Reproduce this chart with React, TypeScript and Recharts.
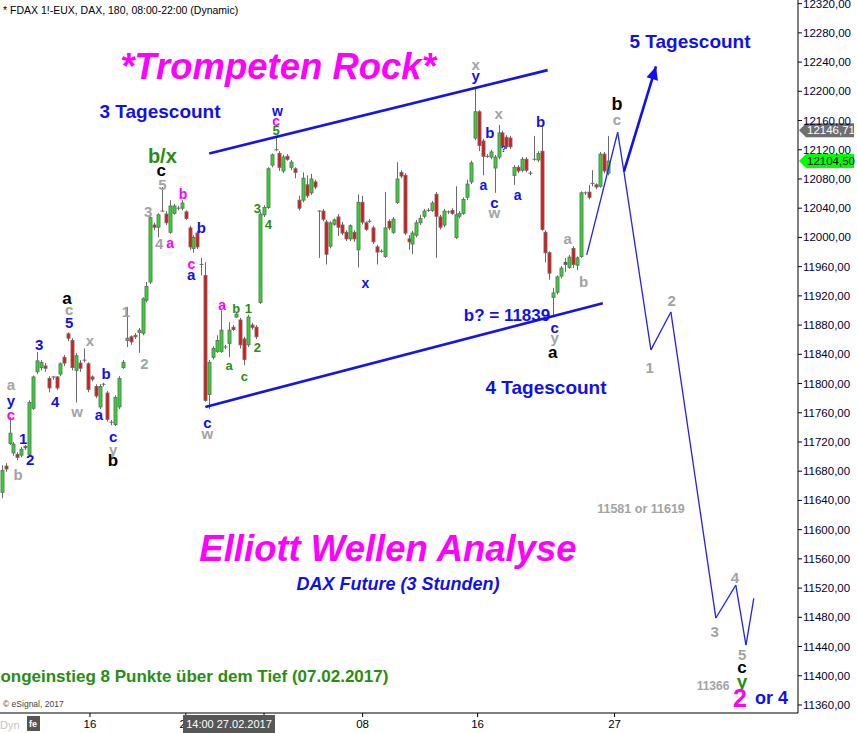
import React from 'react'
import { ComposedChart, Bar, XAxis, YAxis, ReferenceLine, ReferenceDot } from 'recharts'

// FDAX 3h candles, oldest first
const opens = [
  11651, 11687, 11718, 11705, 11703, 11702, 11714, 11703, 11766, 11816, 11822, 11824, 11807, 11809, 11809, 11813,
  11836, 11868, 11859, 11818, 11828, 11832, 11827, 11809, 11796, 11768, 11799, 11787, 11747, 11744, 11768, 11822,
  11859, 11864, 11866, 11870, 11869, 11914, 11939, 12017, 12014, 12036, 12032, 12007, 12033, 12040, 12040, 12035,
  12013, 11985, 12006, 11963, 11948, 11785, 11836, 11844, 11844, 11850, 11855, 11877, 11891, 11887, 11861, 11853,
  11880, 11877, 11911, 12031, 12041, 12099, 12120, 12115, 12091, 12111, 12096, 12094, 12051, 12051, 12072, 12061,
  12076, 12036, 12036, 12021, 11988, 12018, 12028, 12017, 12007, 11998, 12007, 11983, 12048, 12020, 12022, 12013,
  11987, 11981, 11974, 12022, 12007, 12048, 12089, 12085, 11998, 11991, 12003, 12020, 12029, 12037, 12037, 12059,
  12028, 12017, 12035, 12037, 12000, 12029, 12033, 12055, 12076, 12136, 12172, 12132, 12111, 12110, 12095, 12110,
  12143, 12137, 12136, 12085, 12096, 12092, 12107, 12088, 12107, 12106, 12118, 12007, 11979, 11918, 11925, 11947,
  11966, 11959, 11985, 11962, 11974, 12061, 12062, 12074, 12072, 12070, 12114, 12088,
]
const highs = [
  11688, 11691, 11754, 11720, 11706, 11713, 11716, 11777, 11811, 11843, 11832, 11828, 11810, 11810, 11810, 11829,
  11839, 11870, 11862, 11842, 11832, 11848, 11829, 11811, 11799, 11799, 11801, 11790, 11750, 11784, 11810, 11832,
  11905, 11866, 11869, 11876, 11918, 11939, 12029, 12020, 12033, 12069, 12036, 12051, 12046, 12043, 12051, 12037,
  12016, 12003, 12009, 11972, 11966, 11832, 11851, 11866, 11900, 11853, 11884, 11880, 11898, 11890, 11864, 11894,
  11883, 11880, 12035, 12044, 12096, 12115, 12137, 12118, 12113, 12114, 12106, 12096, 12057, 12089, 12085, 12087,
  12079, 12037, 12039, 12024, 12022, 12026, 12032, 12021, 12010, 12018, 12010, 12059, 12057, 12022, 12025, 12016,
  11990, 11984, 12062, 12025, 12028, 12103, 12092, 12088, 12003, 12009, 12024, 12031, 12039, 12040, 12050, 12062,
  12031, 12039, 12037, 12040, 12070, 12036, 12055, 12079, 12105, 12206, 12174, 12135, 12114, 12120, 12113, 12154,
  12146, 12140, 12139, 12099, 12099, 12110, 12110, 12091, 12139, 12118, 12151, 12010, 11981, 11931, 11948, 11961,
  11972, 11976, 11988, 11974, 12063, 12063, 12072, 12092, 12074, 12117, 12117, 12139,
]
const lows = [
  11643, 11679, 11716, 11701, 11695, 11699, 11709, 11701, 11764, 11813, 11818, 11816, 11788, 11805, 11791, 11810,
  11824, 11858, 11818, 11774, 11816, 11829, 11788, 11803, 11780, 11765, 11796, 11748, 11743, 11742, 11765, 11820,
  11850, 11853, 11861, 11842, 11866, 11911, 11936, 12010, 12000, 12035, 12017, 12005, 12031, 12037, 12037, 12024,
  11983, 11979, 11984, 11948, 11775, 11765, 11833, 11842, 11842, 11847, 11836, 11872, 11890, 11848, 11825, 11850,
  11874, 11861, 11909, 12028, 12039, 12096, 12118, 12091, 12088, 12105, 12092, 12081, 12037, 12048, 12054, 12058,
  12066, 11972, 12022, 11963, 11985, 12016, 12002, 12003, 11995, 11995, 11994, 11959, 12018, 12009, 12020, 11991,
  11963, 11979, 11972, 12010, 12005, 12046, 12081, 12003, 11983, 11977, 12000, 12017, 12026, 12035, 12035, 11972,
  12011, 12014, 12032, 12031, 11998, 12026, 12031, 12051, 12073, 12133, 12118, 12085, 12109, 12107, 12061, 12107,
  12122, 12121, 12121, 12072, 12088, 12089, 12089, 12085, 12105, 12103, 12009, 11966, 11942, 11891, 11922, 11944,
  11953, 11957, 11958, 11955, 11972, 12058, 12052, 12070, 12066, 12068, 12088, 12085,
]
const closes = [
  11681, 11683, 11732, 11717, 11699, 11710, 11712, 11774, 11809, 11831, 11829, 11821, 11794, 11809, 11794, 11827,
  11828, 11862, 11822, 11838, 11821, 11832, 11792, 11806, 11783, 11796, 11799, 11751, 11746, 11781, 11807, 11829,
  11862, 11857, 11864, 11873, 11916, 11933, 12027, 12014, 12031, 12036, 12020, 12043, 12043, 12040, 12047, 12026,
  11987, 12000, 11987, 11963, 11777, 11829, 11848, 11859, 11873, 11850, 11873, 11874, 11895, 11853, 11833, 11891,
  11877, 11864, 12032, 12041, 12094, 12113, 12120, 12096, 12110, 12107, 12103, 12089, 12040, 12081, 12057, 12080,
  12069, 12036, 12025, 11977, 12020, 12024, 12014, 12006, 11998, 12016, 11998, 12048, 12021, 12011, 12022, 11994,
  11980, 11981, 12013, 12013, 12025, 12080, 12084, 12006, 11994, 12006, 12020, 12026, 12036, 12037, 12047, 12029,
  12014, 12036, 12035, 12033, 12031, 12033, 12052, 12073, 12102, 12172, 12126, 12111, 12111, 12117, 12110, 12143,
  12125, 12124, 12124, 12096, 12091, 12107, 12092, 12088, 12107, 12115, 12011, 11979, 11951, 11924, 11946, 11958,
  11963, 11973, 11963, 11972, 12061, 12061, 12055, 12073, 12069, 12114, 12091, 12104.5,
]

// x axis: bar slots (bar index), future slots kept empty for the projection
const SLOT_MIN = -0.5
const SLOT_MAX = 203.5
const dayTicks = [22.5, 47, 67, 92.2, 121.6, 156.6]
const dayLabels = ['16', '23', '01', '08', '16', '27']
const priceTicks = Array.from({ length: 25 }, (_, k) => 11360 + 40 * k)

// trend channel
const upperChannel = [{ x: 53, y: 12115 }, { x: 139.5, y: 12229 }]
const lowerChannel = [{ x: 52, y: 11768 }, { x: 153.6, y: 11910 }]

// expected path (wave count)
const projection = [
  { x: 149.5, y: 11976 }, { x: 157.4, y: 12144 }, { x: 159, y: 12090 }, { x: 165.9, y: 11846 },
  { x: 171, y: 11898 }, { x: 182.5, y: 11479 }, { x: 187.6, y: 11524 }, { x: 190.2, y: 11442 },
  { x: 192.2, y: 11506 },
]
const altArrow = [{ x: 159, y: 12090 }, { x: 167.2, y: 12234 }]

const lastHigh = 12146.71
const lastClose = 12104.5

const COLORS: Record<string, string> = {
  g: '#a3a3a3', // grey
  b: '#1010ee', // blue
  m: '#ff00ff', // magenta
  k: '#000000',
  v: '#2a8c14', // green
}

// wave labels: slot, price, text, colour, size
const waveLabels: [number, number, string, string, number][] = [
  [2.3, 11798, 'a', 'g', 15], [2.3, 11777, 'y', 'b', 15], [2.3, 11758, 'c', 'm', 15],
  [5.4, 11725, '1', 'b', 15], [7.2, 11696, '2', 'b', 15], [4.1, 11676, 'b', 'g', 15],
  [9.5, 11854, '3', 'b', 15], [13.6, 11776, '4', 'b', 15],
  [16.6, 11917, 'a', 'k', 17], [17.2, 11902, 'c', 'g', 15], [17.2, 11884, '5', 'b', 15],
  [22.5, 11859, 'x', 'g', 15], [19.2, 11762, 'w', 'g', 15],
  [26.6, 11814, 'b', 'b', 15], [24.8, 11757, 'a', 'b', 15], [28.4, 11727, 'c', 'b', 15],
  [28.4, 11710, 'y', 'g', 15], [28.4, 11694, 'b', 'k', 17],
  [31.7, 11898, '1', 'g', 15], [36.4, 11828, '2', 'g', 15],
  [37.4, 12035, '3', 'g', 15], [40.2, 11992, '4', 'g', 15], [43.0, 11992, 'a', 'm', 14],
  [41.0, 12073, '5', 'g', 15], [40.7, 12091, 'c', 'k', 17], [41.0, 12111, 'b/x', 'v', 20],
  [46.3, 12059, 'b', 'm', 14], [51.0, 12014, 'b', 'b', 15], [48.4, 11963, 'c', 'm', 14], [48.4, 11949, 'a', 'b', 15],
  [52.5, 11747, 'c', 'b', 15], [52.5, 11731, 'w', 'g', 15],
  [56.3, 11907, 'a', 'm', 14], [59.9, 11903, 'b', 'v', 13], [63.0, 11903, '1', 'v', 13],
  [58.1, 11824, 'a', 'v', 13], [62.0, 11810, 'c', 'v', 13], [65.3, 11850, '2', 'v', 13],
  [65.3, 12040, '3', 'v', 13], [68.1, 12018, '4', 'v', 13],
  [70.4, 12173, 'w', 'b', 14], [70.1, 12159, 'c', 'm', 14], [70.1, 12146, '5', 'v', 13],
  [92.9, 11937, 'x', 'b', 14],
  [121.1, 12237, 'x', 'g', 15], [121.1, 12222, 'y', 'b', 15],
  [127.0, 12169, 'x', 'g', 15], [124.7, 12143, 'b', 'b', 15], [128.2, 12121, '?', 'b', 9],
  [123.1, 12072, 'a', 'b', 14], [125.9, 12048, 'c', 'b', 15], [125.9, 12034, 'w', 'g', 15],
  [131.8, 12058, 'a', 'b', 14], [137.7, 12159, 'b', 'b', 15],
  [144.6, 11999, 'a', 'g', 15], [148.7, 11940, 'b', 'g', 15],
  [141.3, 11877, 'c', 'b', 15], [141.3, 11863, 'y', 'g', 15], [140.8, 11843, 'a', 'k', 17],
  [157.2, 12182, 'b', 'k', 18], [157.2, 12161, 'c', 'g', 15],
  [165.6, 11822, '1', 'g', 15], [171.2, 11913, '2', 'g', 15], [182.2, 11460, '3', 'g', 15],
  [187.4, 11535, '4', 'g', 15], [189.2, 11429, '5', 'g', 15], [189.2, 11411, 'c', 'k', 17],
  [189.2, 11392, 'y', 'v', 19],
]

const FONT = '"Liberation Sans", Arial, sans-serif'

const Candle = (props: any) => {
  const { x, y, width, height, payload } = props
  if (!payload || payload.open == null) return null
  const { open, close, high, low } = payload
  const top = Math.min(y, y + height)
  const span = Math.abs(height)
  const ppu = high > low ? span / (high - low) : 0
  const yOf = (v: number) => top + (high - v) * ppu
  const cx = Math.round(x + width / 2) + 0.5
  const yo = yOf(open)
  const yc = yOf(close)
  const up = close >= open
  return (
    <g>
      <line x1={cx} x2={cx} y1={top} y2={top + span} stroke="#6a6a6a" strokeWidth={1} />
      {Math.abs(yo - yc) < 1 ? (
        <line x1={cx - 2} x2={cx + 2} y1={yo} y2={yo} stroke="#6a6a6a" strokeWidth={1} />
      ) : (
        <rect
          x={cx - 1.5}
          y={Math.min(yo, yc)}
          width={3}
          height={Math.abs(yo - yc)}
          fill={up ? '#1fe31f' : '#ee1010'}
          stroke="#6a6a6a"
          strokeWidth={0.9}
        />
      )}
    </g>
  )
}

const PriceTick = ({ x, y, payload }: any) => (
  <text x={x} y={y} dy={4} fontSize={11.5} fill="#000033" fontFamily={FONT}>
    {fmtPrice(payload.value)}
  </text>
)

const DayTick = ({ x, y, payload }: any) => (
  <text x={x} y={y} dy={10} fontSize={11.5} fill="#000" fontFamily={FONT} textAnchor="middle">
    {dayLabels[dayTicks.indexOf(payload.value)] ?? ''}
  </text>
)

const PriceTag = ({ cx, cy, fill, color, text }: any) => (
  <g>
    <polygon
      points={`${cx + 1},${cy} ${cx + 8},${cy - 7} ${cx + 56},${cy - 7} ${cx + 56},${cy + 7} ${cx + 8},${cy + 7}`}
      fill={fill}
    />
    <text x={cx + 9} y={cy + 4} fontSize={11.5} fill={color} fontFamily={FONT}>{text}</text>
  </g>
)

const ArrowHead = ({ cx, cy }: any) => {
  // direction of the arrow shaft on screen
  const a = Math.atan2(-112, 34)
  const len = 13
  const half = 6
  const bx = cx - len * Math.cos(a)
  const by = cy - len * Math.sin(a)
  const px = -Math.sin(a) * half
  const py = Math.cos(a) * half
  return <polygon points={`${cx},${cy} ${bx + px},${by + py} ${bx - px},${by - py}`} fill="#1010ee" />
}

const segments = (pts: { x: number; y: number }[]) =>
  pts.slice(1).map((p, k) => [pts[k], p] as [{ x: number; y: number }, { x: number; y: number }])

function fmtPrice(v: number) {
  return v.toFixed(2).replace('.', ',')
}

export default function App() {
  const bars = opens.map((o, i) => ({ i, open: o, high: highs[i], low: lows[i], close: closes[i] }))

  return (
    <div style={{ position: 'absolute', left: 0, top: 0, width: 857, height: 733, background: '#fff', overflow: 'hidden' }}>
      <ComposedChart width={857} height={733} data={bars} margin={{ top: 0, right: 0, bottom: 0, left: 0 }}>
        <XAxis
          type="number"
          dataKey="i"
          domain={[SLOT_MIN, SLOT_MAX]}
          ticks={dayTicks}
          interval={0}
          allowDataOverflow
          height={20}
          tickSize={4}
          tickMargin={1}
          axisLine={{ stroke: '#000' }}
          tickLine={{ stroke: '#000' }}
          tick={<DayTick />}
        />
        <YAxis
          orientation="right"
          domain={[11349, 12325]}
          ticks={priceTicks}
          interval={0}
          allowDataOverflow
          width={59}
          tickSize={4}
          tickMargin={1}
          axisLine={{ stroke: '#000' }}
          tickLine={{ stroke: '#000033' }}
          tick={<PriceTick />}
        />
        <Bar
          dataKey={(d: any) => [d.low, d.high]}
          shape={<Candle />}
          barSize={4}
          isAnimationActive={false}
        />
        <ReferenceLine segment={upperChannel} stroke="#1515e6" strokeWidth={2.6} />
        <ReferenceLine segment={lowerChannel} stroke="#1515e6" strokeWidth={2.6} />
        {segments(projection).map((s, k) => (
          <ReferenceLine key={`p${k}`} segment={s} stroke="#2222ee" strokeWidth={1.3} />
        ))}
        <ReferenceLine segment={altArrow} stroke="#1010ee" strokeWidth={2.6} />
        <ReferenceDot x={altArrow[1].x} y={altArrow[1].y} r={0} shape={(p: any) => <ArrowHead cx={p.cx} cy={p.cy} />} />
        {waveLabels.map(([i, p, t, c, s], k) => (
          <ReferenceDot
            key={`w${k}`}
            x={i}
            y={p}
            r={0}
            shape={(pr: any) => (
              <text
                x={pr.cx}
                y={pr.cy}
                textAnchor="middle"
                dominantBaseline="central"
                fontSize={s}
                fontWeight="bold"
                fontFamily={FONT}
                fill={COLORS[c]}
              >
                {t}
              </text>
            )}
          />
        ))}
        <ReferenceDot
          x={SLOT_MAX}
          y={lastHigh}
          r={0}
          shape={(p: any) => <PriceTag cx={p.cx} cy={p.cy} fill="#6e6e6e" color="#fff" text={fmtPrice(lastHigh)} />}
        />
        <ReferenceDot
          x={SLOT_MAX}
          y={lastClose}
          r={0}
          shape={(p: any) => <PriceTag cx={p.cx} cy={p.cy} fill="#00ff00" color="#000" text={fmtPrice(lastClose)} />}
        />
      </ComposedChart>

      <svg width={857} height={733} style={{ position: 'absolute', left: 0, top: 0, pointerEvents: 'none' }} fontFamily={FONT}>
        <text x={3} y={14} fontSize={10.5} fill="#000">* FDAX 1!-EUX, DAX, 180, 08:00-22:00 (Dynamic)</text>
        <text x={278} y={79} fontSize={36.5} fontWeight="bold" fontStyle="italic" fill="#ff00ff" textAnchor="middle">*Trompeten Rock*</text>
        <text x={160} y={118} fontSize={19} fontWeight="bold" fill="#1010ee" textAnchor="middle">3 Tagescount</text>
        <text x={690} y={48} fontSize={19} fontWeight="bold" fill="#1010ee" textAnchor="middle">5 Tagescount</text>
        <text x={546} y={394} fontSize={19} fontWeight="bold" fill="#1010ee" textAnchor="middle">4 Tagescount</text>
        <text x={507} y={321} fontSize={17} fontWeight="bold" fill="#1010ee" textAnchor="middle">b? = 11839</text>
        <text x={641} y={513} fontSize={12.5} fontWeight="bold" fill="#a3a3a3" textAnchor="middle">11581 or 11619</text>
        <text x={713} y={690} fontSize={12} fontWeight="bold" fill="#a3a3a3" textAnchor="middle">11366</text>
        <text x={388} y={561} fontSize={36.5} fontWeight="bold" fontStyle="italic" fill="#ff00ff" textAnchor="middle">Elliott Wellen Analyse</text>
        <text x={398} y={590} fontSize={18} fontWeight="bold" fontStyle="italic" fill="#1010ee" textAnchor="middle">DAX Future (3 Stunden)</text>
        <text x={-10} y={682} fontSize={17} fontWeight="bold" fill="#2a8c14">Longeinstieg 8 Punkte über dem Tief (07.02.2017)</text>
        <text x={740} y={707} fontSize={25} fontWeight="bold" fill="#ff00ff" textAnchor="middle">2</text>
        <text x={755} y={704} fontSize={18} fontWeight="bold" fill="#1010ee">or 4</text>
        <text x={3} y={707} fontSize={8.5} fill="#444">© eSignal, 2017</text>
        <text x={0} y={729} fontSize={11} fill="#c4c4c4">Dyn</text>
        <rect x={27} y={716} width={13} height={15} fill="#555" />
        <text x={29} y={727} fontSize={9} fontWeight="bold" fill="#fff">fe</text>
        <rect x={183} y={715} width={92} height={18} fill="#575757" />
        <text x={229} y={728} fontSize={11} fill="#fff" textAnchor="middle">14:00 27.02.2017</text>
      </svg>
    </div>
  )
}
